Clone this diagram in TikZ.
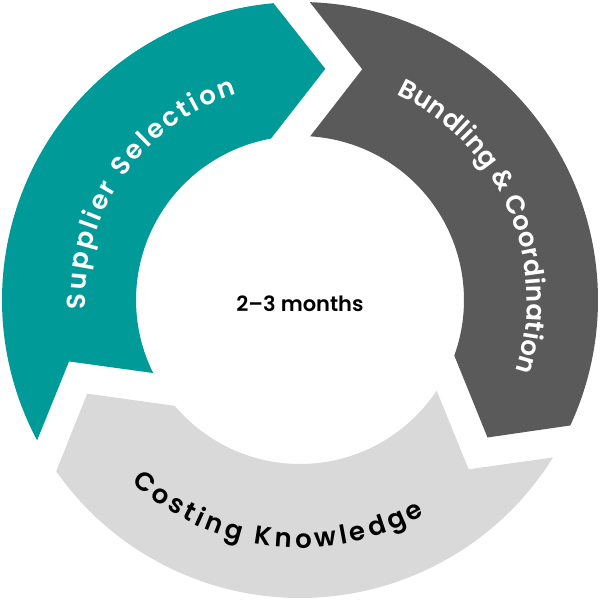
\documentclass[tikz,border=0pt]{standalone}
\usepackage{fontspec}
\setmainfont{Poppins}[UprightFont=* Medium, BoldFont=* SemiBold]
\usetikzlibrary{decorations.text}

\definecolor{tealarc}{HTML}{009B98}
\definecolor{darkarc}{HTML}{5A5A5A}
\definecolor{lightarc}{HTML}{D9D9D9}
\newcommand\arcfont{\fontsize{26}{30}\selectfont\bfseries}

\begin{document}
\begin{tikzpicture}[
    font=\fontsize{21}{25}\selectfont,
    % Segment styles
    supplier/.style={fill=tealarc},
    bundling/.style={fill=darkarc},
    costing/.style={fill=lightarc},
    arclabel/.style={decorate, decoration={text along path, text align={fit to path}}},
]

    \useasboundingbox (-300pt,-300pt) rectangle (300pt,300pt);

    % Ring segments (tail notch, inner arc, chevron head, outer arc)
    \fill[supplier] (208.1:298pt) -- (194.9:239pt) -- (206.45:164pt)
        arc[start angle=206.45, end angle=100.2, radius=164pt]
        -- (83.75:232.5pt) -- (95.1:298pt)
        arc[start angle=95.1, end angle=208.1, radius=298pt] -- cycle;
    \fill[bundling] (88.1:298pt) -- (74.9:239pt) -- (86.45:164pt)
        arc[start angle=86.45, end angle=-19.8, radius=164pt]
        -- (-36.25:232.5pt) -- (-24.9:298pt)
        arc[start angle=-24.9, end angle=88.1, radius=298pt] -- cycle;
    \fill[costing] (-31.9:298pt) -- (-45.1:239pt) -- (-33.55:164pt)
        arc[start angle=-33.55, end angle=-139.8, radius=164pt]
        -- (-156.25:232.5pt) -- (-144.9:298pt)
        arc[start angle=-144.9, end angle=-31.9, radius=298pt] -- cycle;

    % Labels along the ring
    \path[arclabel, decoration={text={|\arcfont|Supplier Selection}, text color=white}]
        (182.5:215pt) arc[start angle=182.5, end angle=107, radius=215pt];
    \path[arclabel, decoration={text={|\arcfont|Bundling {\&} Coordination}, text color=white}]
        (65:227pt) arc[start angle=65, end angle=-18.3, radius=227pt];
    \path[arclabel, decoration={text={|\arcfont|Costing Knowledge}, text color=black}]
        (227.2:248pt) arc[start angle=227.2, end angle=300.2, radius=248pt];

    % Centre text
    \node[font=\fontsize{21}{25}\selectfont\bfseries] (months) at (0,-4pt) {2–3 months};

\end{tikzpicture}
\end{document}
